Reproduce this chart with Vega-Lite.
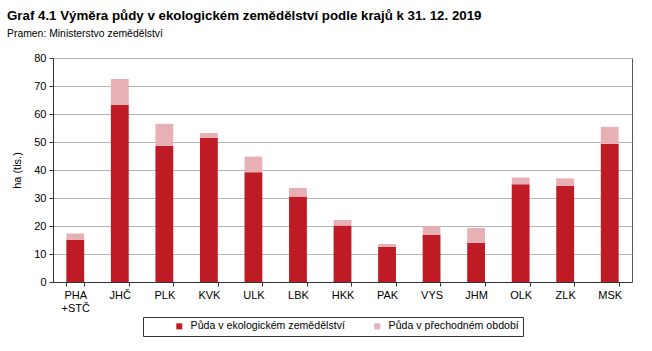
{
  "$schema": "https://vega.github.io/schema/vega-lite/v6.json",
  "width": 579,
  "height": 224,
  "autosize": {"type": "none"},
  "padding": {"left": 53, "top": 58, "right": 20, "bottom": 69},
  "background": "white",
  "title": {
    "text": "Graf 4.1 Výměra půdy v ekologickém zemědělství podle krajů k 31. 12. 2019",
    "subtitle": "Pramen: Ministerstvo zemědělství",
    "anchor": "start",
    "frame": "group",
    "dx": -46,
    "offset": 13,
    "font": "Liberation Sans",
    "fontSize": 13.3,
    "fontWeight": "bold",
    "color": "#000",
    "subtitleFont": "Liberation Sans",
    "subtitleFontSize": 10.4,
    "subtitleColor": "#000",
    "subtitlePadding": 6
  },
  "data": {
    "values": [
      {"kraj": "PHA +STČ", "typ": "Půda v ekologickém zemědělství", "hodnota": 15.1, "poradi": 1},
      {"kraj": "PHA +STČ", "typ": "Půda v přechodném období", "hodnota": 2.2, "poradi": 2},
      {"kraj": "JHČ", "typ": "Půda v ekologickém zemědělství", "hodnota": 63.3, "poradi": 1},
      {"kraj": "JHČ", "typ": "Půda v přechodném období", "hodnota": 9.2, "poradi": 2},
      {"kraj": "PLK", "typ": "Půda v ekologickém zemědělství", "hodnota": 48.6, "poradi": 1},
      {"kraj": "PLK", "typ": "Půda v přechodném období", "hodnota": 7.9, "poradi": 2},
      {"kraj": "KVK", "typ": "Půda v ekologickém zemědělství", "hodnota": 51.5, "poradi": 1},
      {"kraj": "KVK", "typ": "Půda v přechodném období", "hodnota": 1.7, "poradi": 2},
      {"kraj": "ULK", "typ": "Půda v ekologickém zemědělství", "hodnota": 39.2, "poradi": 1},
      {"kraj": "ULK", "typ": "Půda v přechodném období", "hodnota": 5.6, "poradi": 2},
      {"kraj": "LBK", "typ": "Půda v ekologickém zemědělství", "hodnota": 30.5, "poradi": 1},
      {"kraj": "LBK", "typ": "Půda v přechodném období", "hodnota": 3.1, "poradi": 2},
      {"kraj": "HKK", "typ": "Půda v ekologickém zemědělství", "hodnota": 20.2, "poradi": 1},
      {"kraj": "HKK", "typ": "Půda v přechodném období", "hodnota": 1.9, "poradi": 2},
      {"kraj": "PAK", "typ": "Půda v ekologickém zemědělství", "hodnota": 12.6, "poradi": 1},
      {"kraj": "PAK", "typ": "Půda v přechodném období", "hodnota": 1.0, "poradi": 2},
      {"kraj": "VYS", "typ": "Půda v ekologickém zemědělství", "hodnota": 16.9, "poradi": 1},
      {"kraj": "VYS", "typ": "Půda v přechodném období", "hodnota": 2.9, "poradi": 2},
      {"kraj": "JHM", "typ": "Půda v ekologickém zemědělství", "hodnota": 14.0, "poradi": 1},
      {"kraj": "JHM", "typ": "Půda v přechodném období", "hodnota": 5.3, "poradi": 2},
      {"kraj": "OLK", "typ": "Půda v ekologickém zemědělství", "hodnota": 34.9, "poradi": 1},
      {"kraj": "OLK", "typ": "Půda v přechodném období", "hodnota": 2.4, "poradi": 2},
      {"kraj": "ZLK", "typ": "Půda v ekologickém zemědělství", "hodnota": 34.4, "poradi": 1},
      {"kraj": "ZLK", "typ": "Půda v přechodném období", "hodnota": 2.6, "poradi": 2},
      {"kraj": "MSK", "typ": "Půda v ekologickém zemědělství", "hodnota": 49.4, "poradi": 1},
      {"kraj": "MSK", "typ": "Půda v přechodném období", "hodnota": 6.0, "poradi": 2}
    ]
  },
  "mark": {"type": "bar"},
  "encoding": {
    "x": {
      "field": "kraj",
      "type": "nominal",
      "sort": null,
      "scale": {"paddingInner": 0.6, "paddingOuter": 0.3},
      "axis": {
        "title": null,
        "labelAngle": 0,
        "labelExpr": "datum.value == 'PHA +STČ' ? ['PHA', '+STČ'] : datum.label",
        "tickBand": "extent",
        "tickSize": 4,
        "tickColor": "#333",
        "domainColor": "#333",
        "labelFont": "Liberation Sans",
        "labelFontSize": 11,
        "labelColor": "#000",
        "labelPadding": 3,
        "labelLineHeight": 13
      }
    },
    "y": {
      "field": "hodnota",
      "type": "quantitative",
      "stack": "zero",
      "scale": {"domain": [0, 80]},
      "axis": {
        "title": "ha (tis.)",
        "values": [0, 10, 20, 30, 40, 50, 60, 70, 80],
        "titleFont": "Liberation Sans",
        "titleFontSize": 11,
        "titleFontWeight": "normal",
        "titleColor": "#000",
        "titlePadding": 11,
        "labelFont": "Liberation Sans",
        "labelFontSize": 11,
        "labelColor": "#000",
        "tickSize": 4,
        "tickColor": "#333",
        "domainColor": "#333",
        "gridColor": "#b4b4b4",
        "labelPadding": 3
      }
    },
    "color": {
      "field": "typ",
      "type": "nominal",
      "scale": {
        "domain": ["Půda v ekologickém zemědělství", "Půda v přechodném období"],
        "range": ["#be1b24", "#e6b0b4"]
      },
      "legend": {
        "title": null,
        "orient": "none",
        "legendX": 90,
        "legendY": 259,
        "direction": "horizontal",
        "columns": 2,
        "gridAlign": "all",
        "columnPadding": 0,
        "symbolType": "square",
        "symbolSize": 36,
        "symbolStrokeWidth": 0,
        "symbolOffset": 27,
        "labelOffset": 6,
        "labelFont": "Liberation Sans",
        "labelFontSize": 10.6,
        "labelColor": "#000",
        "labelLimit": 400,
        "strokeColor": "#333",
        "padding": 4,
        "offset": 0
      }
    },
    "order": {"field": "poradi", "type": "quantitative"}
  },
  "config": {
    "view": {"stroke": "#555", "strokeWidth": 1},
    "axis": {"grid": true},
    "axisX": {"grid": false}
  }
}
